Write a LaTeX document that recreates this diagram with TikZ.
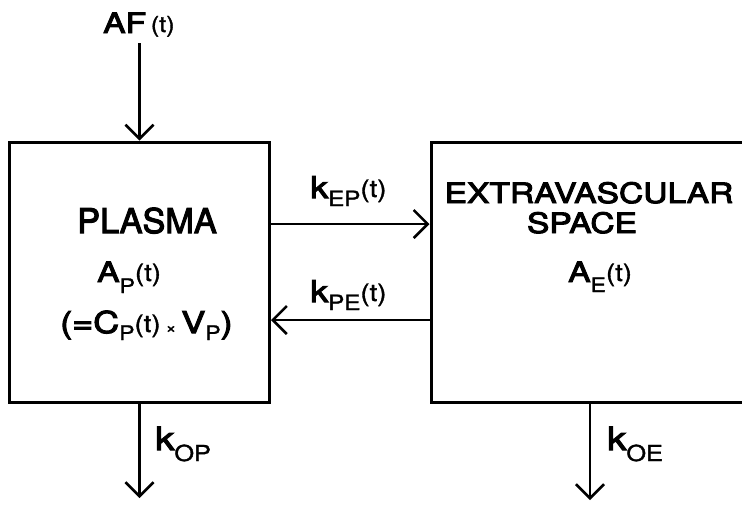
\documentclass[tikz,border=0pt]{standalone}
\usepackage{fontspec}
\setmainfont{TeX Gyre Heros}[FakeStretch=1.2,FakeBold=3.5]
\newfontfamily\thinf{TeX Gyre Heros}[FakeStretch=1.15,FakeBold=1.5]
\usetikzlibrary{arrows.meta}
% subscript: size, drop, text
\newcommand\lsub[3]{\raisebox{-#2pt}{\thinf\fontsize{#1}{#1}\selectfont #3}}
% parenthesised t: size
\newcommand\lt[1]{\raisebox{1pt}{\thinf\fontsize{#1}{#1}\selectfont (t)}}
\newcommand\fs[1]{\fontsize{#1}{#1}\selectfont}
\begin{document}
\begin{tikzpicture}[x=1pt,y=-1pt,
  box/.style={draw,line width=3pt,minimum height=260pt,inner sep=0pt},
  flow/.style={line width=2.5pt,-{Straight Barb[length=14pt,width=28pt,line width=2.5pt]}},
  lab/.style={font=\fs{28},inner sep=0pt}]
\useasboundingbox (0,0) rectangle (742,504);
\clip (0,0) rectangle (742,504);
% boxes
\node[box,minimum width=260pt] (plasma) at (139.5,272) {};
\node[box,minimum width=340pt] (extra) at (601,272) {};
% free ends
\coordinate (afstart) at (139.5,43);
\coordinate (opend) at (139.5,498);
\coordinate (oeend) at (590,500);
% connectors
\draw[flow] (afstart) -- (plasma.north);
\draw[flow] (plasma.east |- 0,224) -- (extra.west |- 0,224);
\draw[flow] (extra.west |- 0,320) -- (plasma.east |- 0,320);
\draw[flow] (plasma.south) -- (opend);
\draw[flow] (extra.south -| oeend) -- (oeend);
% labels
\node[lab,anchor=base west] (laf) at (103,33) {AF\,\lt{22}};
\node[lab,anchor=base,font=\fs{34}] (lpl) at (147,233) {\scalebox{0.84}[1]{PLASMA}};
\node[lab,anchor=base west] (lap) at (97,282) {A\lsub{20}{11}{P}\lt{24}};
\node[lab,anchor=base west,font=\fs{30}] (lcv) at (60,333) {(=C\lsub{20}{7}{P}\lt{24}\,{\thinf\fs{16}×}\,V\lsub{20}{7}{P})};
\node[lab,anchor=base west,font=\fs{30}] (lkep) at (310,198) {k\lsub{21}{8}{EP}\lt{24}};
\node[lab,anchor=base west,font=\fs{30}] (lkpe) at (310,302) {k\lsub{21}{8}{PE}\lt{24}};
\node[lab,anchor=base] (lex) at (589,203) {EXTRAVASCULAR};
\node[lab,anchor=base] (lsp) at (582,233) {SPACE};
\node[lab,anchor=base west] (lae) at (568,282) {A\lsub{20}{10}{E}\lt{24}};
\node[lab,anchor=base west,font=\fs{32}] (lkop) at (155,450) {k\lsub{22}{11}{OP}};
\node[lab,anchor=base west,font=\fs{32}] (lkoe) at (607,450) {k\lsub{22}{11}{OE}};
\end{tikzpicture}
\end{document}
